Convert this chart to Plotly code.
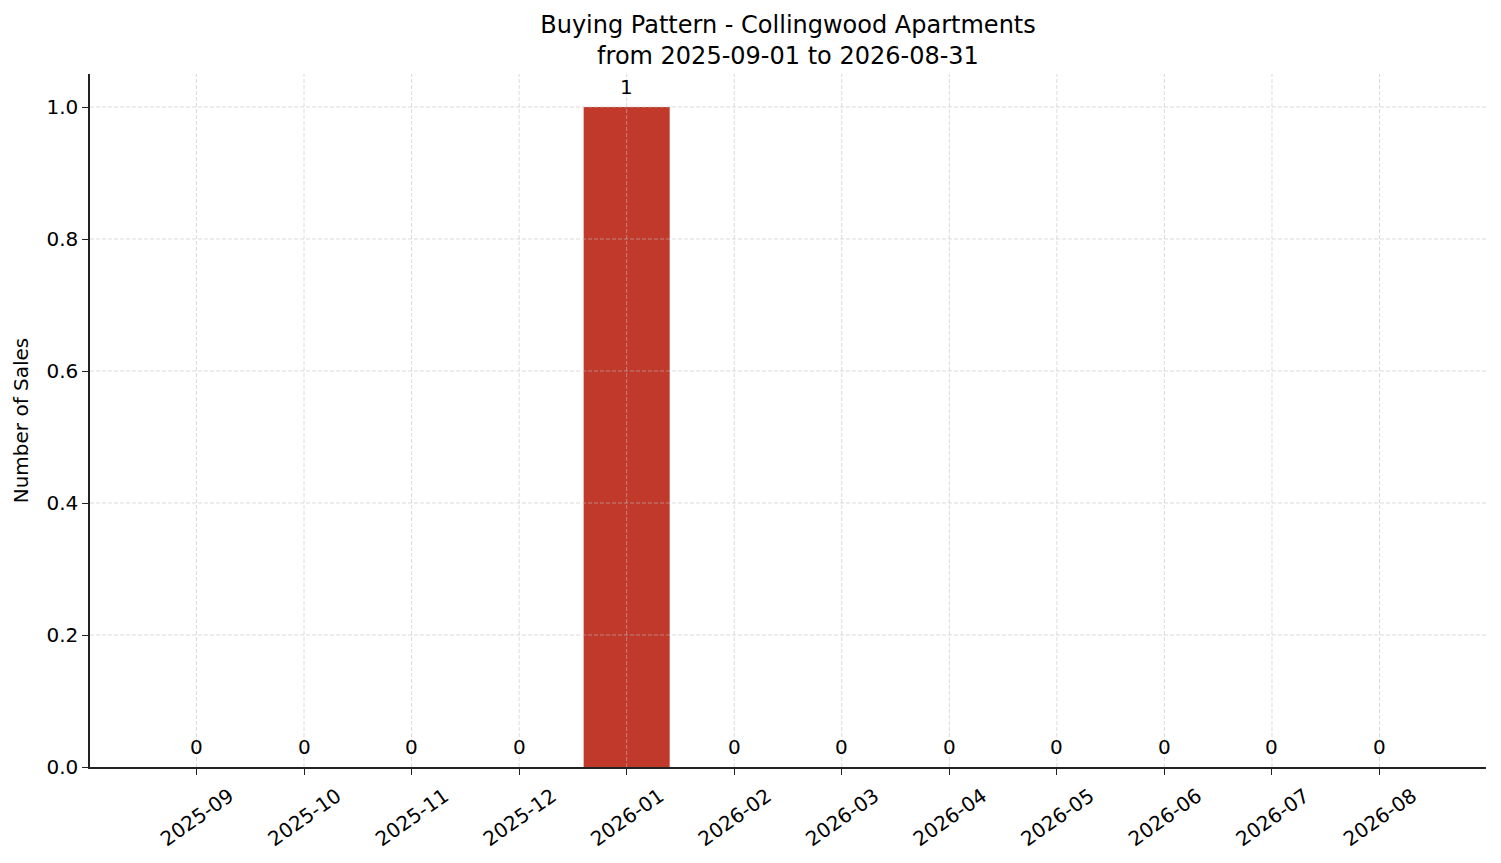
import plotly.graph_objects as go

months = ['2025-09', '2025-10', '2025-11', '2025-12', '2026-01', '2026-02',
          '2026-03', '2026-04', '2026-05', '2026-06', '2026-07', '2026-08']
sales = [0, 0, 0, 0, 1, 0, 0, 0, 0, 0, 0, 0]
y_ticks = [0.0, 0.2, 0.4, 0.6, 0.8, 1.0]

FONT = 'DejaVu Sans'
INK = '#222222'
GRID = 'rgba(190,190,190,0.7)'

fig = go.Figure(go.Bar(
    x=list(range(len(months))),
    y=sales,
    width=0.8,
    marker=dict(color='#c0392b', line=dict(width=0)),
    hovertemplate='%{customdata}: %{y}<extra></extra>',
    customdata=months,
))

# value labels above each bar
for i, v in enumerate(sales):
    fig.add_annotation(x=i, y=v, text=str(v), showarrow=False,
                       yanchor='bottom', yshift=6,
                       font=dict(family=FONT, size=20, color='black'))

# dashed grid drawn over the bars, like the original
for i in range(len(months)):
    fig.add_shape(type='line', xref='x', yref='paper', x0=i, x1=i, y0=0, y1=1,
                  line=dict(color=GRID, width=0.8, dash='4px,2px'), layer='above')
for t in y_ticks[1:]:
    fig.add_shape(type='line', xref='paper', yref='y', x0=0, x1=1, y0=t, y1=t,
                  line=dict(color=GRID, width=0.8, dash='4px,2px'), layer='above')

# page body keeps an 8px margin, so the figure is sized to fit inside it
fig.update_layout(
    width=1485, height=847,
    margin=dict(l=82, r=7, t=66, b=88),
    paper_bgcolor='white', plot_bgcolor='white',
    font=dict(family=FONT, size=20, color='black'),
    showlegend=False,
    title=dict(text='Buying Pattern - Collingwood Apartments<br>from 2025-09-01 to 2026-08-31',
               x=0.5, xref='paper', xanchor='center',
               y=1 - 25 / 847, yref='container', yanchor='top',
               font=dict(family=FONT, size=24, color='black')),
)
fig.update_xaxes(
    range=[-0.99, 11.99], automargin=False,
    tickmode='array', tickvals=list(range(len(months))), ticktext=months,
    tickangle=-35, ticklabelshift=33, ticklabelstandoff=2,
    ticks='outside', ticklen=6, tickwidth=1.3, tickcolor=INK,
    showline=True, linecolor=INK, linewidth=1.5,
    showgrid=False, zeroline=False,
    tickfont=dict(family=FONT, size=20, color='black'),
)
fig.update_yaxes(
    range=[0, 1.05], automargin=False,
    tickmode='array', tickvals=y_ticks, tickformat='.1f',
    ticks='outside', ticklen=6, tickwidth=1.3, tickcolor=INK,
    showline=True, linecolor=INK, linewidth=1.5,
    showgrid=False, zeroline=False,
    title=dict(text='Number of Sales', standoff=12,
               font=dict(family=FONT, size=20, color='black')),
    tickfont=dict(family=FONT, size=20, color='black'),
)

fig.write_html('out.html')
